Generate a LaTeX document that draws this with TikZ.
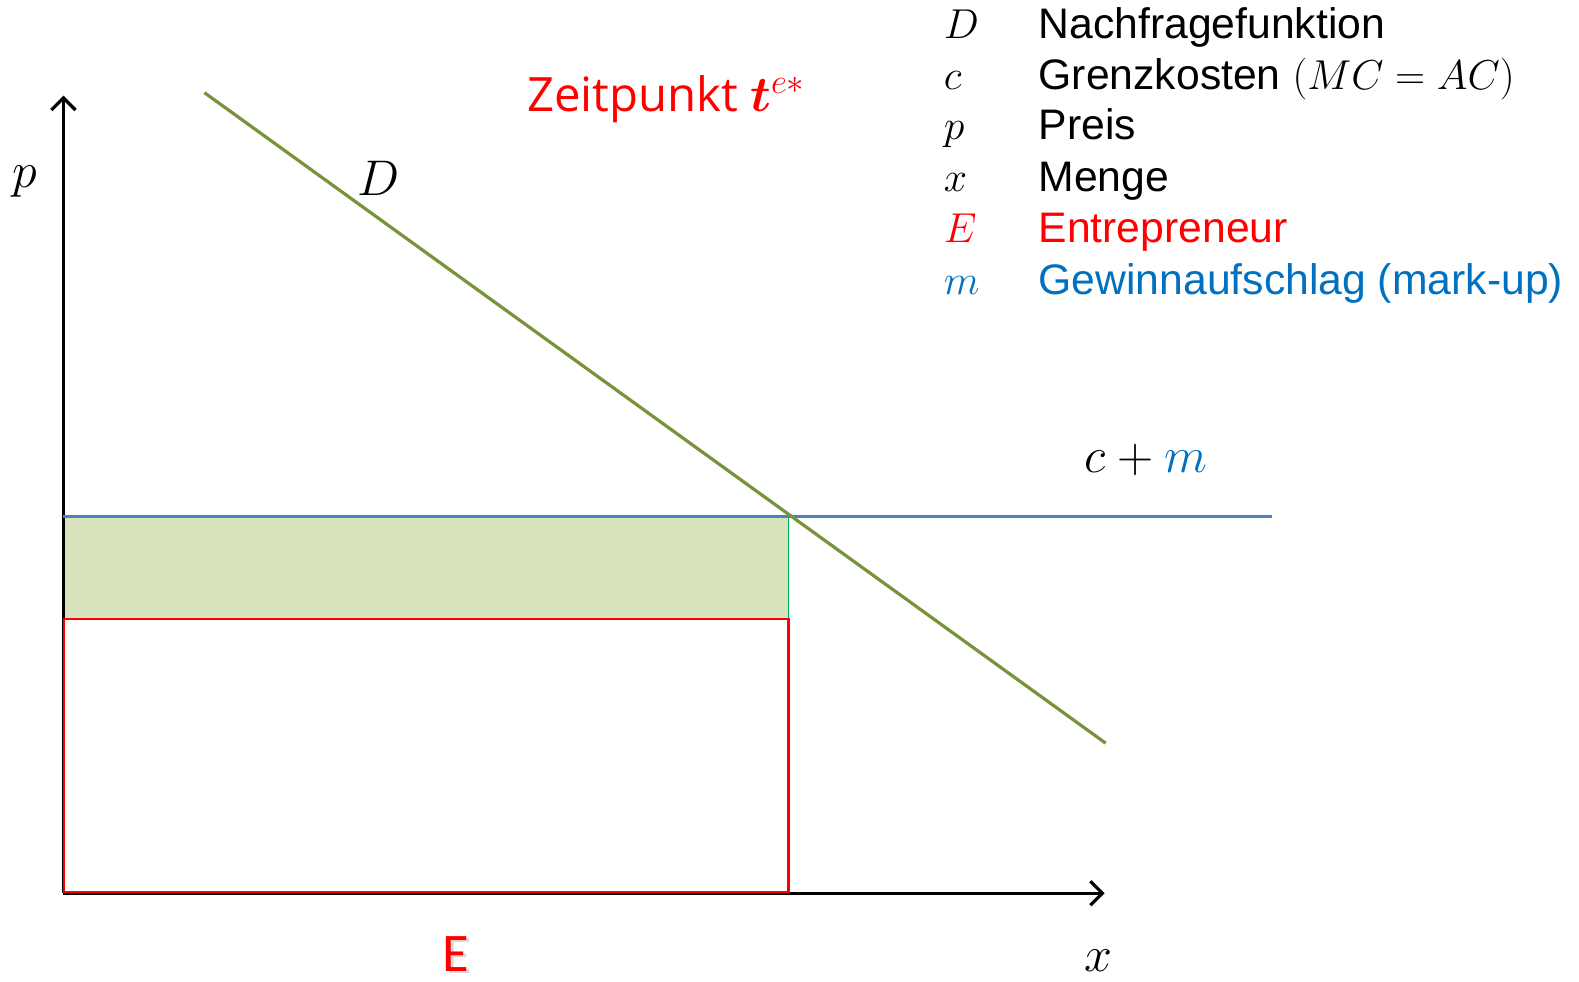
\documentclass[tikz,border=0pt]{standalone}
\usepackage{amsmath}
\usepackage{fontspec}
\setmainfont{Liberation Sans}
\newfontfamily\titlefont{Open Sans}
\newfontfamily\efont{Carlito}
\usetikzlibrary{arrows.meta}
\definecolor{dgreen}{HTML}{77933C}
\definecolor{lblue}{HTML}{4F81BD}
\definecolor{mblue}{HTML}{0070C0}
\definecolor{lfill}{HTML}{D7E4BD}
\definecolor{vgreen}{HTML}{00B050}
\tikzset{
  axis/.style={line width=1.6pt,-{Straight Barb[length=6pt,width=12pt,line width=1.6pt]}},
  legsym/.style={anchor=base west,inner sep=0pt,font=\fontsize{22.5}{26}\selectfont},
  legtxt/.style={anchor=base west,inner sep=0pt,font=\fontsize{21.2}{26}\selectfont},
  lbl/.style={inner sep=0pt,font=\fontsize{23.5}{27}\selectfont}
}
\begin{document}
\begin{tikzpicture}[x=0.5pt,y=-0.5pt]
\useasboundingbox (0,0) rectangle (1568,975);
% key points
\coordinate (O) at (63,887);
\coordinate (ytop) at (63,95);
\coordinate (xend) at (1097,887);
\coordinate (Ds) at (203,92);
\coordinate (De) at (1098,738);
\coordinate (Ps) at (63,513);
\coordinate (Pe) at (1263,513);
\coordinate (Q) at (783,513);
\coordinate (Cl) at (64,615);
\coordinate (Cr) at (783,615);
\coordinate (Qb) at (783,886);
% profit area
\fill[lfill] (Ps) rectangle (Cr);
\draw[vgreen,line width=0.7pt] (Q) -- (Cr);
% axes
\draw[axis] (O) -- (ytop);
\draw[axis] (O) -- (xend);
% cost rectangle
\draw[red,line width=1pt] (Cl) rectangle (Qb);
% price line
\draw[lblue,line width=1.7pt] (Ps) -- (Pe);
% demand
\draw[dgreen,line width=1.6pt] (Ds) -- (De);
% labels
\node[lbl] (lp) at (25,180) {$p$};
\node[lbl] (lD) at (376,177) {$D$};
\node[lbl,font=\fontsize{24.5}{28}\selectfont] (lcm) at (1138,457) {$c+\textcolor{mblue}{m}$};
\node[lbl] (lx) at (1091,954) {$x$};
\node[inner sep=0pt,text=black!15,font=\efont\fontsize{27}{30}\selectfont] (Esh) at (455.5,949.5) {E};
\node[inner sep=0pt,text=red,font=\efont\fontsize{27}{30}\selectfont] (E) at (453,947) {E};
% title
\node[anchor=base west,inner sep=0pt,text=red,font=\titlefont\fontsize{23.5}{28}\selectfont] (title) at (523,111) {Zeitpunkt $\boldsymbol{t}^{e*}$};
% legend
\node[legsym] (s1) at (937,38) {$D$};
\node[legtxt] (t1) at (1031,38) {Nachfragefunktion};
\node[legsym] (s2) at (937,89) {$c$};
\node[legtxt] (t2) at (1031,89) {Grenzkosten $(MC=AC)$};
\node[legsym] (s3) at (937,139) {$p$};
\node[legtxt] (t3) at (1031,139) {Preis};
\node[legsym] (s4) at (937,190) {$x$};
\node[legtxt] (t4) at (1031,190) {Menge};
\node[legsym,text=red] (s5) at (937,241) {$E$};
\node[legtxt,text=red] (t5) at (1031,241) {Entrepreneur};
\node[legsym,text=mblue] (s6) at (937,292) {$m$};
\node[legtxt,text=mblue] (t6) at (1031,292) {Gewinnaufschlag (mark-up)};
\end{tikzpicture}
\end{document}
